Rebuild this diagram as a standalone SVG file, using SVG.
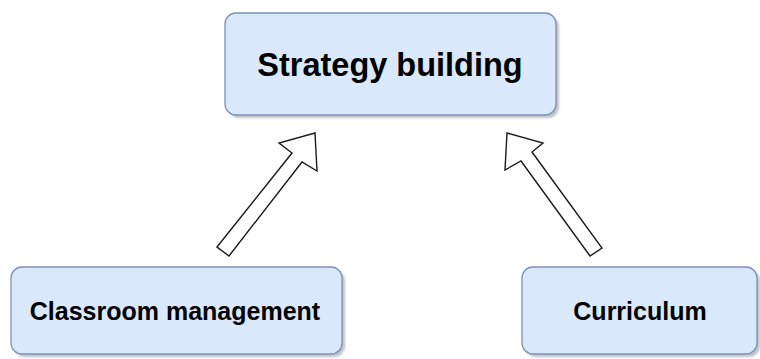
<svg xmlns="http://www.w3.org/2000/svg" width="760" height="359" viewBox="0 0 760 359">
<style>
.box{fill:#dae8fc;stroke:#7b93b8;stroke-width:1.3}
.shadow{fill:#8a8f99;opacity:0.55}
.lbl{font-family:"Liberation Sans",Arial,Helvetica,sans-serif;font-weight:bold;fill:#000;text-anchor:middle}
.arrow{fill:#fff;stroke:#1a1a1a;stroke-width:1.4;stroke-linejoin:miter}
</style>
<defs>
<filter id="blur" x="-5%" y="-5%" width="110%" height="110%"><feGaussianBlur stdDeviation="1"/></filter>
</defs>
<rect width="760" height="359" fill="#fff"/>
<g id="connectors">
<polygon class="arrow" points="217,247 292,153 279,143 315,133 317,171 302,162 229,256"/>
<polygon class="arrow" points="590,256 521,161 505,170 507,133 543,143 532,152 602,248"/>
</g>
<g id="node-strategy">
<rect class="shadow" x="228" y="16" width="331" height="102" rx="11" filter="url(#blur)"/>
<rect class="box" x="225" y="13" width="331" height="102" rx="11"/>
<text class="lbl" x="390" y="76" font-size="32.5">Strategy building</text>
</g>
<g id="node-classroom">
<rect class="shadow" x="14" y="270" width="331" height="87" rx="11" filter="url(#blur)"/>
<rect class="box" x="11" y="267" width="331" height="87" rx="11"/>
<text class="lbl" x="175" y="320" font-size="25">Classroom management</text>
</g>
<g id="node-curriculum">
<rect class="shadow" x="525" y="270" width="235" height="87" rx="11" filter="url(#blur)"/>
<rect class="box" x="522" y="267" width="235" height="87" rx="11"/>
<text class="lbl" x="640" y="320" font-size="25">Curriculum</text>
</g>
</svg>
